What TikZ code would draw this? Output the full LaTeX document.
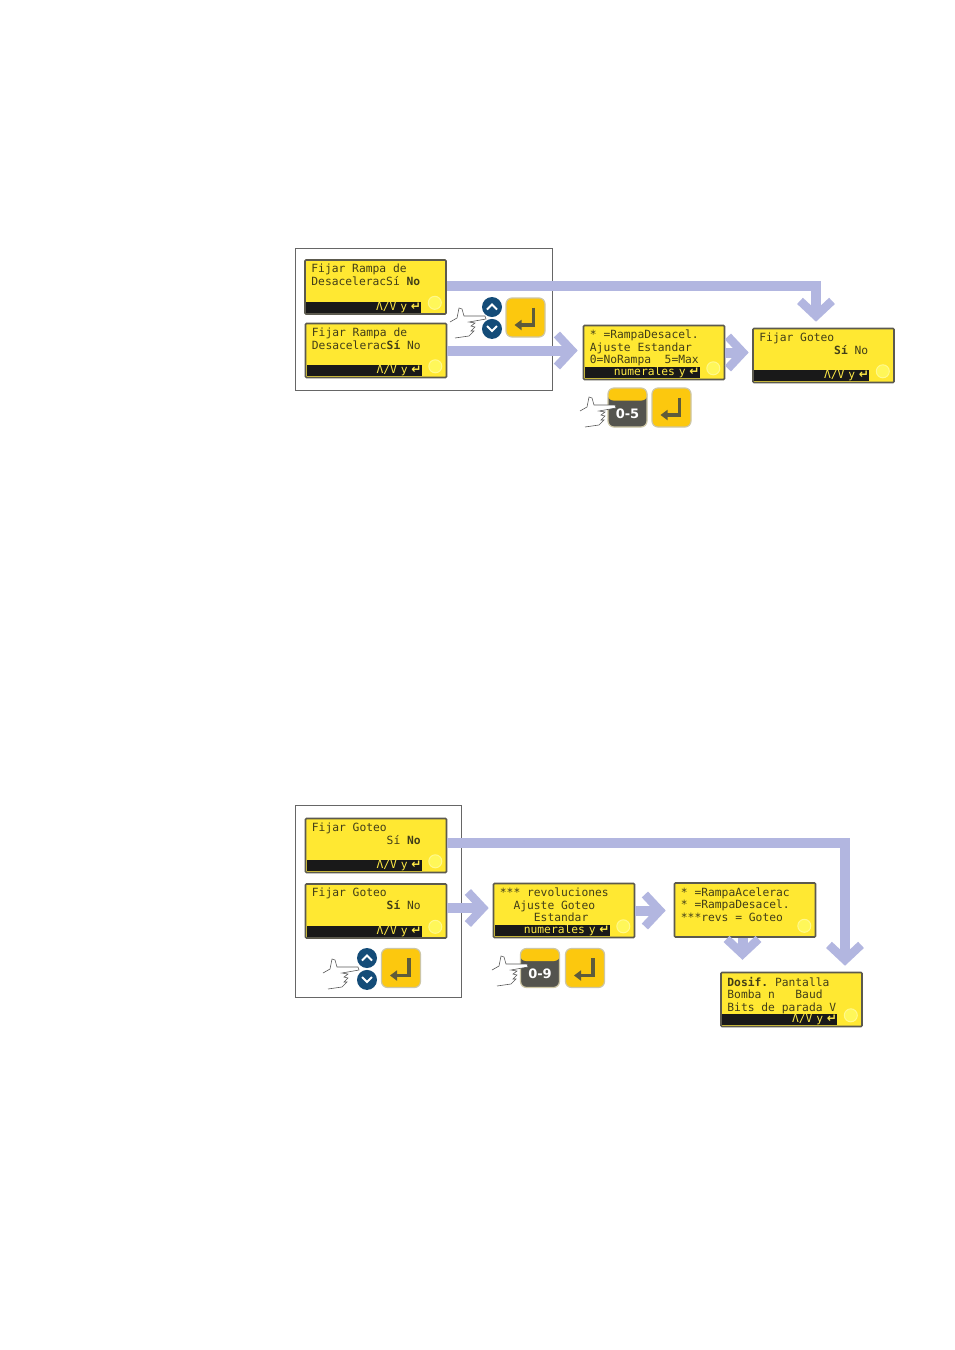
\documentclass[tikz,border=0pt]{standalone}
\usepackage{fontspec}
\setmainfont{DejaVu Sans}
\setmonofont{DejaVu Sans Mono}
\usepackage{tikz}
\usetikzlibrary{arrows.meta,positioning,calc}
\definecolor{lcdyellow}{RGB}{255,232,50}
\definecolor{lcdedge}{RGB}{92,90,78}
\definecolor{lcdink}{RGB}{66,62,24}
\definecolor{flowblue}{RGB}{178,182,224}
\definecolor{keyyellow}{RGB}{252,200,14}
\definecolor{keyedge}{RGB}{205,198,165}
\definecolor{keygrey}{RGB}{84,84,78}
\definecolor{navkey}{RGB}{20,76,120}
\newcommand{\retsym}{\hspace*{6.8pt}\makebox[7pt][r]{\fontsize{12}{11}\selectfont\bfseries\rmfamily ↵}}

\begin{document}
\begin{tikzpicture}[
    x=1pt, y=-1pt,
    group/.style={draw=black!60, line width=0.9pt, fill=white},
    lcd/.style={draw=lcdedge, line width=1.6pt, rounded corners=1pt, fill=lcdyellow, minimum width=141pt, minimum height=54pt, inner sep=0pt},
    lcdtxt/.style={anchor=north west, inner sep=0pt, align=left, text=lcdink, font=\ttfamily\fontsize{11.3}{12.7}\selectfont, xshift=7pt, yshift=-5pt},
    lcdbar/.style={anchor=south west, fill=black!90, text=lcdyellow!90!white, inner xsep=0.5pt, inner ysep=0.5pt, text width=114pt, align=right, text height=8pt, text depth=2pt, font=\ttfamily\fontsize{11.3}{11}\selectfont, xshift=2pt, yshift=2pt},
    glow/.style={circle, draw=yellow!45!white, line width=1pt, fill=yellow!65!white, minimum size=13pt, inner sep=0pt, xshift=-12pt, yshift=12pt},
    flow/.style={draw=flowblue, line width=10pt, -{Straight Barb[length=15pt, width=32pt, line width=8.5pt]}},
    keybox/.style={draw=keyedge, line width=1.2pt, rounded corners=6pt, minimum size=39pt, inner sep=0pt},
    navbtn/.style={circle, fill=navkey, minimum size=20pt, inner sep=0pt},
    navmark/.style={draw=white, line width=1.8pt},
    handline/.style={draw=black!65, line width=0.6pt, fill=white},
    pics/enterkey/.style={code={
        \node[keybox, fill=keyyellow] (-body) at (0,0) {};
        \draw[lcdink!85, line width=3.4pt, -{Triangle[length=7pt, width=10pt]}] (8,-10) -- (8,7.5) -- (-11,7.5);
    }},
    pics/numkey/.style={code={
        \node[keybox, fill=keygrey, path picture={\fill[keyyellow] (-20,-20) rectangle (20,-7);}] (-body) at (0,0) {};
        \node[text=white, inner sep=0pt, font=\bfseries\fontsize{13}{13}\selectfont] (-lbl) at (0,6) {#1};
    }},
    pics/navpair/.style={code={
        \node[navbtn] (-up) at (0,0) {};
        \node[navbtn, below=1.5pt of -up] (-down) {};
        \draw[navmark] (-5,2.5) -- (0,-2.5) -- (5,2.5);
        \draw[navmark] (-5,19) -- (0,24) -- (5,19);
    }},
    pics/hand/.style={code={
        \draw[handline] (-35,5) -- (-28,1) -- (-26,-9) -- (-23,-8) -- (-21,-1) -- (0,-1) -- (1,2) -- (-16,5) -- (-10,6) -- (-14,9) -- (-10,10) -- (-14,14) -- (-11,14) -- (-16,19) -- (-30,21);
    }}
]
\useasboundingbox (0,0) rectangle (954,1350);
\fill[white] (0,0) rectangle (954,1350);

\node[group, minimum width=257pt, minimum height=142pt, inner sep=0pt] (grpa) at (423.5,319) {};
\node[group, minimum width=166pt, minimum height=192pt, inner sep=0pt] (grpb) at (378,901) {};

\node[lcd] (a1) at (375.5,287) {};
\node[lcdtxt] (a1txt) at (a1.north west) {Fijar Rampa de\\DesaceleracSí \textbf{No}};
\node[lcdbar] (a1bar) at (a1.south west) {Λ/V y\retsym};
\node[glow] (a1led) at (a1.south east) {};
\node[lcd] (a2) at (376,350.5) {};
\node[lcdtxt] (a2txt) at (a2.north west) {Fijar Rampa de\\Desacelerac\textbf{Sí} No};
\node[lcdbar] (a2bar) at (a2.south west) {Λ/V y\retsym};
\node[glow] (a2led) at (a2.south east) {};
\node[lcd] (a3) at (654,352.5) {};
\node[lcdtxt] (a3txt) at (a3.north west) {* =RampaDesacel.\\Ajuste Estandar\\0=NoRampa~~5=Max};
\node[lcdbar] (a3bar) at (a3.south west) {numerales y\retsym};
\node[glow] (a3led) at (a3.south east) {};
\node[lcd] (a4) at (823.5,355.5) {};
\node[lcdtxt] (a4txt) at (a4.north west) {Fijar Goteo\\~~~~~~~~~~~\textbf{Sí} No};
\node[lcdbar] (a4bar) at (a4.south west) {Λ/V y\retsym};
\node[glow] (a4led) at (a4.south east) {};

\node[lcd] (b1) at (376,845.5) {};
\node[lcdtxt] (b1txt) at (b1.north west) {Fijar Goteo\\~~~~~~~~~~~Sí \textbf{No}};
\node[lcdbar] (b1bar) at (b1.south west) {Λ/V y\retsym};
\node[glow] (b1led) at (b1.south east) {};
\node[lcd] (b2) at (376,911) {};
\node[lcdtxt] (b2txt) at (b2.north west) {Fijar Goteo\\~~~~~~~~~~~\textbf{Sí} No};
\node[lcdbar] (b2bar) at (b2.south west) {Λ/V y\retsym};
\node[glow] (b2led) at (b2.south east) {};
\node[lcd] (b3) at (564,910.5) {};
\node[lcdtxt] (b3txt) at (b3.north west) {*** revoluciones\\~~Ajuste Goteo\\~~~~~Estandar};
\node[lcdbar] (b3bar) at (b3.south west) {numerales y\retsym};
\node[glow] (b3led) at (b3.south east) {};
\node[lcd] (b4) at (745,910) {};
\node[lcdtxt] (b4txt) at (b4.north west) {* =RampaAcelerac\\* =RampaDesacel.\\***revs = Goteo};
\node[glow] (b4led) at (b4.south east) {};
\node[lcd] (b5) at (791.5,999.5) {};
\node[lcdtxt] (b5txt) at (b5.north west) {\textbf{Dosif.} Pantalla\\Bomba n~~~Baud\\Bits de parada V};
\node[lcdbar] (b5bar) at (b5.south west) {Λ/V y\retsym};
\node[glow] (b5led) at (b5.south east) {};

\draw[flow, shorten >=6pt] ([yshift=1.5pt]a1.east) -| ([xshift=-7.5pt]a4.north);
\draw[flow, shorten >=5pt] (a2.east) -- (a2.east -| a3.west);
\draw[flow, shorten >=3.5pt] (a3.east) -- (a3.east -| a4.west);
\draw[flow, shorten >=6pt] ([yshift=2.5pt]b1.east) -| ([xshift=53.5pt]b5.north);
\draw[flow, shorten >=4pt] ([yshift=3pt]b2.east) -- ([yshift=3pt]b2.east -| b3.west);
\draw[flow, shorten >=8pt] (b3.east) -- (b3.east -| b4.west);
\draw[flow, shorten >=6pt] (b4.south -| b5.north) ++(-49,0) -- ++(0,28);

\pic (a1nav) at (492,307) {navpair};
\pic (a1ent) at (525.5,317.5) {enterkey};
\pic at (485,317) {hand};
\pic (a3num) at (627.5,407.5) {numkey={0-5}};
\pic (a3ent) at (671.5,407.5) {enterkey};
\pic at (615,406) {hand};
\pic (b2nav) at (367,958) {navpair};
\pic (b2ent) at (401,968) {enterkey};
\pic at (358,968) {hand};
\pic (b3num) at (540,968) {numkey={0-9}};
\pic (b3ent) at (585,968) {enterkey};
\pic at (527,965) {hand};
\end{tikzpicture}
\end{document}
